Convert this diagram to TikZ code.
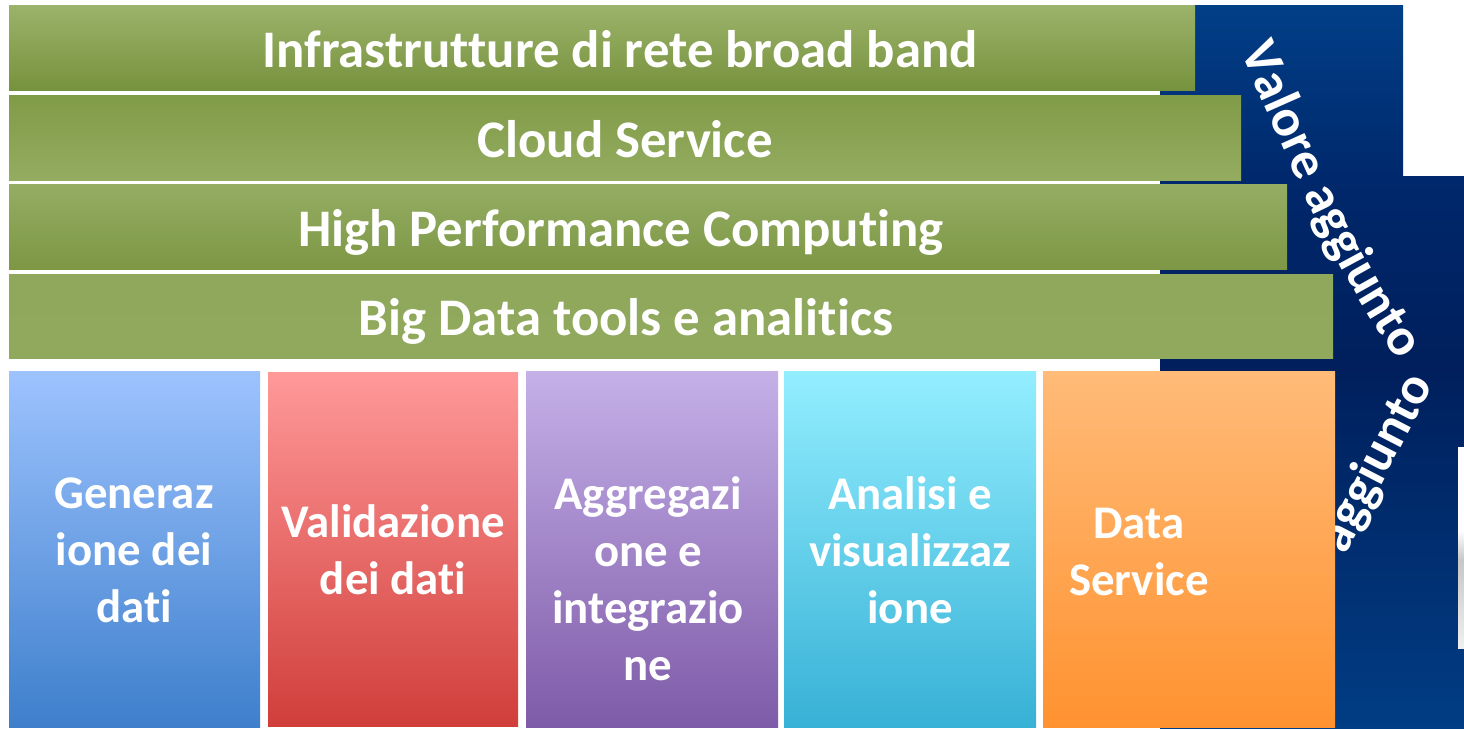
\documentclass[tikz,border=0pt]{standalone}
\usepackage{fontspec}
\setmainfont{Carlito}[Ligatures=NoCommon]
\usepackage{tikz}
\usetikzlibrary{decorations.text}

\definecolor{verdechiaro}{HTML}{9DB46C}
\definecolor{verdescuro}{HTML}{77933C}
\definecolor{blualto}{HTML}{013F87}
\definecolor{blumedio}{HTML}{00286C}
\definecolor{blunotte}{HTML}{001F5C}
\definecolor{blubasso}{HTML}{013D84}
\pgfdeclareverticalshading{fondoblu}{100bp}{color(0bp)=(blubasso); color(25bp)=(blubasso); color(50bp)=(blunotte); color(63bp)=(blumedio); color(75bp)=(blualto); color(100bp)=(blualto)}
\newcommand{\vfont}{\color{white}\fontsize{26.4}{31}\selectfont\bfseries}

\begin{document}
\begin{tikzpicture}[x=0.5pt,y=-0.5pt]
    \tikzstyle{bartext}=[text=white, inner sep=0pt, anchor=base, font=\fontsize{26.4}{31}\selectfont\bfseries]
    \tikzstyle{boxtext}=[text=white, inner sep=0pt, align=center, font=\fontsize{23.4}{28.5}\selectfont\bfseries]
    \tikzstyle{curva}=[decorate, decoration={text along path, text format delimiters={|}{|}, text align=left}]

    \useasboundingbox (0,0) rectangle (1464,729);

    % fondo blu
    \shade[shading=fondoblu]
        (1160,5) -- (1403,5) -- (1403,176) -- (1464,176) -- (1464,729) -- (1160,729) -- cycle;
    \fill[white] (1458,447) rectangle (1464,530);
    \shade[top color=white, bottom color=black!22] (1458,530) rectangle (1464,560);
    \shade[top color=black!22, bottom color=black!6] (1458,560) rectangle (1464,648);

    \path[curva, decoration={text={|\vfont|Valore aggiunto}}] (1240,51) .. controls (1289,160) and (1330,262) .. (1397,359);
    \path[curva, decoration={text={|\vfont|aggiunto}}] (1345,555) -- (1432,387);

    % barre
    \shade[top color={rgb,255:red,155;green,179;blue,106}, bottom color={rgb,255:red,119;green,146;blue,62}] (9,5) rectangle (1195,90);
    \shade[top color={rgb,255:red,128;green,155;blue,72}, middle color=verdechiaro, bottom color={rgb,255:red,148;green,172;blue,96}] (9,95) rectangle (1241,180);
    \shade[top color={rgb,255:red,148;green,173;blue,99}, middle color=verdescuro, bottom color={rgb,255:red,125;green,151;blue,69}] (9,184) rectangle (1287,269);
    \shade[top color={rgb,255:red,143;green,168;blue,91}, middle color=verdechiaro, bottom color={rgb,255:red,144;green,169;blue,92}] (9,274) rectangle (1333,358);

    \node[bartext] (infra) at (620,67) {Infrastrutture di rete broad band};
    \node[bartext] (cloud) at (625,157) {Cloud Service};
    \node[bartext] (hpc) at (621,246) {High Performance Computing};
    \node[bartext] (bigdata) at (626,335) {Big Data tools e analitics};

    % fasi
    \shade[top color={rgb,255:red,157;green,195;blue,254}, bottom color={rgb,255:red,62;green,127;blue,204}] (9,371) rectangle (260,727);
    \shade[top color={rgb,255:red,255;green,153;blue,153}, bottom color={rgb,255:red,208;green,62;blue,58}] (268,372) rectangle (518,726);
    \shade[top color={rgb,255:red,197;green,176;blue,232}, bottom color={rgb,255:red,126;green,91;blue,168}] (526,371) rectangle (778,727);
    \shade[top color={rgb,255:red,147;green,238;blue,255}, bottom color={rgb,255:red,55;green,177;blue,214}] (784,371) rectangle (1036,727);
    \shade[top color={rgb,255:red,255;green,187;blue,120}, bottom color={rgb,255:red,255;green,146;blue,48}] (1043,371) rectangle (1335,727);

    \node[boxtext] (gen) at (134,550) {Generaz\\ione dei\\dati};
    \node[boxtext] (val) at (393,550) {Validazione\\dei dati};
    \node[boxtext] (aggr) at (648,579) {Aggregazi\\one e\\integrazio\\ne};
    \node[boxtext] (anal) at (910,550) {Analisi e\\visualizzaz\\ione};
    \node[boxtext] (serv) at (1139,552) {Data\\Service};
\end{tikzpicture}
\end{document}
